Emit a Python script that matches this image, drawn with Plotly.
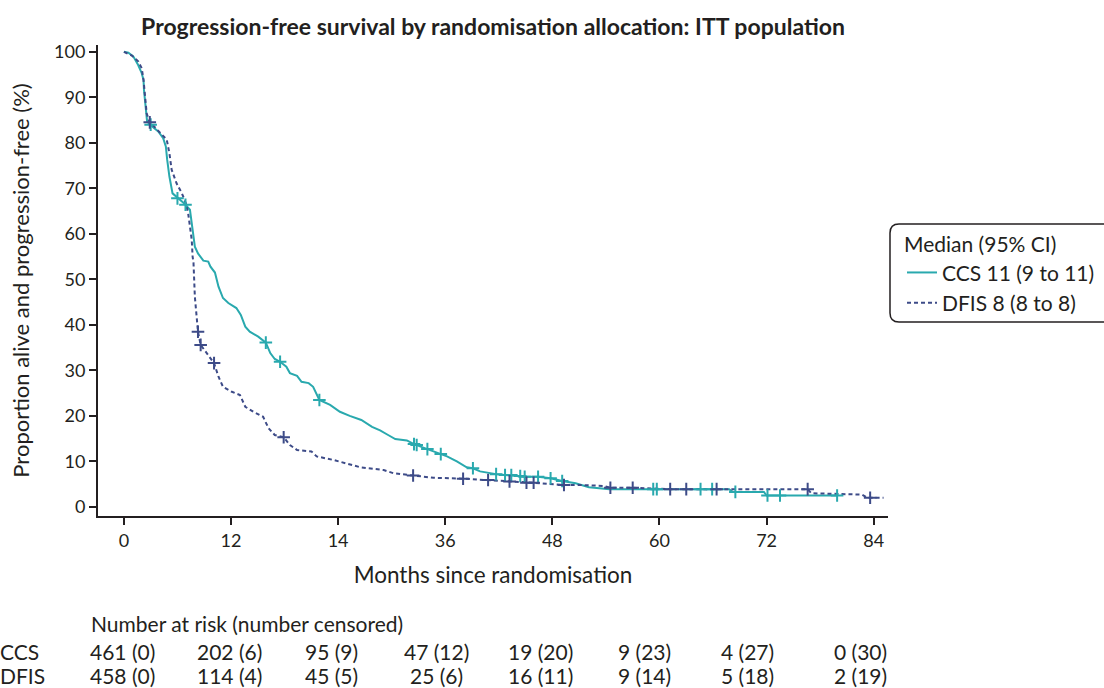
import plotly.graph_objects as go

# ---------------- data ----------------
ccs_months = [0, 0.5, 1.05, 1.6, 2.0, 2.2, 2.25, 2.4, 2.6, 3.1, 3.85, 4.4, 4.7, 4.85, 5.1, 5.45, 6.1, 6.8, 7.4,
              7.6, 7.75, 7.95, 8.3, 8.9, 9.45, 9.7, 10.2, 10.6, 11.1, 11.7, 12.6, 13.1, 13.6, 14.1, 15.05,
              15.9, 16.4, 16.9, 17.5, 18.2, 18.6, 19.4, 19.9, 20.7, 21.2, 21.6, 21.9, 23.1, 24.2, 25.3,
              26.6, 27.8, 28.7, 29.6, 30.4, 31.7, 32.5, 34.0, 35.5, 36.2, 37.3, 38.4, 39.1, 39.9, 41.7,
              42.7, 44.4, 44.9, 46.4, 47.8, 49.1, 50.6, 52.1, 54.4, 67.8, 68.2, 71.7, 72.0, 80.0]
ccs_surv = [100, 99.8, 99.0, 97.1, 95.3, 93.8, 91.6, 88.0, 84.7, 83.7, 82.5, 81.0, 79.2, 76.3, 72.6, 68.9, 67.8,
            66.6, 65.3, 62.3, 59.5, 57.2, 55.7, 54.1, 53.9, 52.8, 51.5, 48.4, 45.9, 44.8, 43.7, 42.2, 39.6,
            38.5, 37.4, 36.1, 33.8, 32.5, 31.9, 30.8, 29.4, 28.8, 27.5, 27.2, 26.4, 24.6, 23.5, 22.4, 20.9,
            20.0, 19.1, 17.6, 16.8, 15.8, 14.9, 14.6, 13.8, 12.7, 11.6, 11.1, 10.0, 8.7, 8.5, 7.8, 7.2,
            7.0, 6.8, 6.6, 6.6, 6.3, 5.7, 5.2, 4.3, 3.9, 3.9, 3.3, 3.3, 2.5, 2.5]

dfis_months = [0, 0.9, 1.6, 2.0, 2.2, 2.35, 2.55, 2.85, 3.5, 4.2, 4.8, 5.1, 5.35, 5.9, 6.5, 6.95, 7.2, 7.4,
               7.6, 7.7, 7.8, 7.95, 8.15, 8.3, 8.6, 9.3, 10.1, 10.6, 11.1, 12.1, 13.0, 13.6, 14.5, 15.6,
               16.2, 16.9, 17.9, 18.6, 19.4, 21.0, 21.6, 23.5, 26.5, 29.1, 30.2, 32.4, 34.7, 38.0, 40.8,
               43.2, 45.1, 45.9, 49.3, 51.3, 53.8, 54.5, 57.0, 59.5, 61.2, 76.6, 77.0, 82.7, 83.3, 85.1]
dfis_surv = [100, 99.2, 97.9, 96.4, 93.8, 90.2, 86.5, 84.7, 83.4, 82.1, 80.7, 77.7, 74.1, 71.1, 68.9, 66.7,
             64.5, 61.6, 58.7, 55.0, 53.6, 46.2, 41.8, 38.5, 35.6, 33.8, 31.6, 28.6, 26.4, 25.3, 24.6, 22.0,
             20.9, 19.8, 17.3, 15.8, 15.3, 13.6, 12.5, 12.2, 11.1, 10.3, 8.7, 8.1, 7.4, 6.9, 6.4, 6.2, 5.9,
             5.6, 5.3, 5.3, 4.8, 4.8, 4.6, 4.2, 4.2, 4.0, 3.9, 3.9, 3.0, 2.7, 2.0, 2.0]

ccs_cens_months = [3.0, 6.0, 6.9, 15.9, 17.5, 21.9, 32.5, 32.8, 34.0, 35.5, 39.1, 41.7, 42.7, 43.4, 44.4,
                   44.9, 46.4, 47.8, 49.1, 59.3, 59.7, 64.6, 65.9, 68.5, 72.1, 73.5, 79.9]
ccs_cens_surv = [84.0, 67.8, 66.4, 36.1, 31.9, 23.5, 13.8, 13.6, 12.7, 11.6, 8.5, 7.2, 7.0, 7.0, 6.8,
                 6.6, 6.6, 6.3, 5.7, 3.9, 3.9, 3.9, 3.9, 3.3, 2.5, 2.5, 2.5]

dfis_cens_months = [2.9, 8.3, 8.6, 10.1, 17.9, 32.4, 38.0, 40.8, 43.2, 45.1, 45.9, 49.3, 54.5, 57.0, 61.2,
                    63.0, 66.4, 76.6, 83.6]
dfis_cens_surv = [84.5, 38.5, 35.6, 31.6, 15.3, 6.9, 6.2, 5.9, 5.6, 5.3, 5.3, 4.8, 4.2, 4.2, 3.9,
                  3.9, 3.9, 3.9, 2.0]

tick_vals = [0, 12, 24, 36, 48, 60, 72, 84]
tick_text = ["0", "12", "14", "36", "48", "60", "72", "84"]

risk_groups = ["CCS", "DFIS"]
ccs_risk = ["461 (0)", "202 (6)", "95 (9)", "47 (12)", "19 (20)", "9 (23)", "4 (27)", "0 (30)"]
dfis_risk = ["458 (0)", "114 (4)", "45 (5)", "25 (6)", "16 (11)", "9 (14)", "5 (18)", "2 (19)"]

legend_names = ["CCS 11 (9 to 11)", "DFIS 8 (8 to 8)"]

# ---------------- style ----------------
TEAL = "#29A9AE"
NAVY = "#3D4B88"
INK = "#231F20"
FONT = "Lato"
TICK = 18

W, H = 1104, 688
ML, MR, MT, MB = 98, 216, 45, 172
PW, PH = W - ML - MR, H - MT - MB


def px_x(p):
    return (p - ML) / PW


def px_y(p):
    return (H - MB - p) / PH


fig = go.Figure()

fig.add_trace(go.Scatter(x=ccs_months, y=ccs_surv, mode="lines", name=legend_names[0],
                         line=dict(color=TEAL, width=2)))
fig.add_trace(go.Scatter(x=dfis_months, y=dfis_surv, mode="lines", name=legend_names[1],
                         line=dict(color=NAVY, width=2, dash="4px,3px")))
fig.add_trace(go.Scatter(x=ccs_cens_months, y=ccs_cens_surv, mode="markers", showlegend=False,
                         marker=dict(symbol="cross-thin", size=9, line=dict(color=TEAL, width=2))))
fig.add_trace(go.Scatter(x=dfis_cens_months, y=dfis_cens_surv, mode="markers", showlegend=False,
                         marker=dict(symbol="cross-thin", size=9, line=dict(color=NAVY, width=2))))

axis_common = dict(showline=True, linecolor=INK, linewidth=2, ticks="outside", tickcolor=INK,
                   tickwidth=2, ticklen=7, showgrid=False, zeroline=False,
                   tickfont=dict(family=FONT, size=TICK, color=INK))

fig.update_xaxes(range=[-2.9, 85.6], tickvals=tick_vals, ticktext=tick_text,
                 title=dict(text="Months since randomisation", font=dict(family=FONT, size=22.5, color=INK),
                            standoff=18), **axis_common)
fig.update_yaxes(range=[-2, 101.5], tickvals=list(range(0, 101, 10)),
                 title=dict(text="Proportion alive and progression-free (%)",
                            font=dict(family=FONT, size=22, color=INK), standoff=18), **axis_common)

annotations = []
annotations.append(dict(x=px_x(89), y=px_y(623), xref="paper", yref="paper", xanchor="left",
                        yanchor="middle", showarrow=False, text="Number at risk (number censored)",
                        font=dict(family=FONT, size=21, color=INK)))
col_centers = [122, 229, 331, 436, 540, 644, 747, 860]
row_y = [651, 675]
for r, (grp, vals) in enumerate(zip(risk_groups, [ccs_risk, dfis_risk])):
    annotations.append(dict(x=px_x(-2), y=px_y(row_y[r]), xref="paper", yref="paper", xanchor="left",
                            yanchor="middle", showarrow=False, text=grp,
                            font=dict(family=FONT, size=21, color=INK)))
    for c, v in enumerate(vals):
        annotations.append(dict(x=px_x(col_centers[c]), y=px_y(row_y[r]), xref="paper", yref="paper",
                                xanchor="center", yanchor="middle", showarrow=False, text=v,
                                font=dict(family=FONT, size=21, color=INK)))

# rounded legend box
x0, x1, y0, y1, rr = 890, 1112, 224, 322, 9
pts = [("M", x0 + rr, y0), ("L", x1, y0), ("L", x1, y1), ("L", x0 + rr, y1),
       ("Q", x0, y1), ("", x0, y1 - rr), ("L", x0, y0 + rr), ("Q", x0, y0), ("", x0 + rr, y0)]
path = " ".join(f"{cmd} {px_x(a):.5f},{px_y(b):.5f}".strip() for cmd, a, b in pts) + " Z"
shapes = [dict(type="path", xref="paper", yref="paper", layer="below", path=path,
               line=dict(color=INK, width=1.5), fillcolor="rgba(0,0,0,0)")]

fig.update_layout(
    width=W, height=H, margin=dict(l=ML, r=MR, t=MT, b=MB, autoexpand=False),
    paper_bgcolor="white", plot_bgcolor="white",
    font=dict(family=FONT, size=21, color=INK),
    title=dict(text="<b>Progression-free survival by randomisation allocation: ITT population</b>",
               x=0.5, xref="paper", y=1 - 27 / H, yref="container", xanchor="center", yanchor="middle",
               font=dict(family=FONT, size=23, color=INK)),
    legend=dict(x=px_x(902), y=px_y(225), xanchor="left", yanchor="top", bgcolor="rgba(0,0,0,0)",
                borderwidth=0, itemwidth=30,
                title=dict(text="Median (95% CI)", font=dict(family=FONT, size=21, color=INK)),
                font=dict(family=FONT, size=21, color=INK)),
    annotations=annotations, shapes=shapes,
)

fig.write_html("out.html", config={"displayModeBar": False},
               post_script="document.body.style.margin='0';")
